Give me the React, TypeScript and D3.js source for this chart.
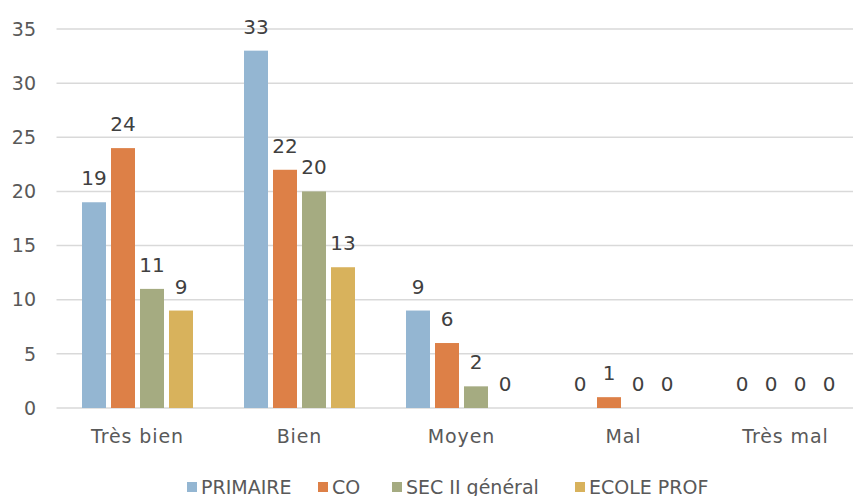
import { useEffect, useRef } from "react"
import * as d3 from "d3"

const categories = ["Très bien", "Bien", "Moyen", "Mal", "Très mal"]
const seriesNames = ["PRIMAIRE", "CO", "SEC II général", "ECOLE PROF"]
const primaire = [19, 33, 9, 0, 0]
const co = [24, 22, 6, 1, 0]
const secII = [11, 20, 2, 0, 0]
const ecoleProf = [9, 13, 0, 0, 0]
const yTicks = [0, 5, 10, 15, 20, 25, 30, 35]

const colors = ["#94B6D2", "#DD8047", "#A5AB81", "#D8B25C"]
const FONT = "'DejaVu Sans', sans-serif"

export default function App() {
  const svgRef = useRef<SVGSVGElement>(null)

  useEffect(() => {
    if (!svgRef.current) return
    const svg = d3.select(svgRef.current)
    svg.selectAll("*").remove()

    const width = 853
    const height = 496
    const left = 56.5
    const right = 866.5
    const top = 29
    const bottom = 408

    const values = [primaire, co, secII, ecoleProf]

    const x = d3.scaleBand<string>().domain(categories).range([left, right])
    // bars 24px wide with 5px gaps inside a group
    const x1 = d3
      .scaleBand<string>()
      .domain(seriesNames)
      .range([25.5, 25.5 + 111])
      .paddingInner(5 / 29)
      .paddingOuter(0)
    const y = d3.scaleLinear().domain([0, 35]).range([bottom, top])

    svg.attr("width", width).attr("height", height)

    // grid
    svg
      .append("g")
      .selectAll("line")
      .data(yTicks)
      .join("line")
      .attr("x1", left)
      .attr("x2", right)
      .attr("y1", (d) => y(d))
      .attr("y2", (d) => y(d))
      .attr("stroke", "#d9d9d9")
      .attr("stroke-width", 1.5)

    // y tick labels
    svg
      .append("g")
      .selectAll("text")
      .data(yTicks)
      .join("text")
      .attr("x", 36)
      .attr("y", (d) => y(d))
      .attr("dy", "0.35em")
      .attr("text-anchor", "end")
      .attr("font-family", FONT)
      .attr("font-size", 19)
      .attr("fill", "#595959")
      .text((d) => d)

    // bars + labels
    values.forEach((vals, si) => {
      const g = svg.append("g")
      g.selectAll("rect")
        .data(vals)
        .join("rect")
        .attr("x", (_, i) => x(categories[i])! + x1(seriesNames[si])!)
        .attr("y", (d) => y(d))
        .attr("width", x1.bandwidth())
        .attr("height", (d) => bottom - y(d))
        .attr("fill", colors[si])
      g.selectAll("text")
        .data(vals)
        .join("text")
        .attr("x", (_, i) => x(categories[i])! + x1(seriesNames[si])! + x1.bandwidth() / 2)
        .attr("y", (d) => y(d) - 17)
        .attr("text-anchor", "middle")
        .attr("font-family", FONT)
        .attr("font-size", 20)
        .attr("fill", "#404040")
        .text((d) => d)
    })

    // category labels
    svg
      .append("g")
      .selectAll("text")
      .data(categories)
      .join("text")
      .attr("x", (d) => x(d)! + x.bandwidth() / 2)
      .attr("y", 443)
      .attr("text-anchor", "middle")
      .attr("font-family", FONT)
      .attr("font-size", 19)
      .attr("letter-spacing", 0.9)
      .attr("fill", "#595959")
      .text((d) => d)

    // legend (cut off at the bottom edge, as in the original)
    const legendX = [187, 318, 392, 575]
    const lg = svg.append("g")
    seriesNames.forEach((name, i) => {
      lg.append("rect")
        .attr("x", legendX[i])
        .attr("y", 482)
        .attr("width", 10)
        .attr("height", 10)
        .attr("fill", colors[i])
      lg.append("text")
        .attr("x", legendX[i] + 14)
        .attr("y", 494)
        .attr("font-family", FONT)
        .attr("font-size", 19)
        .attr("fill", "#595959")
        .text(name)
    })
  }, [])

  return (
    <div style={{ position: "absolute", left: 0, top: 0, width: 853, height: 496, overflow: "hidden", background: "#fff" }}>
      <svg ref={svgRef} style={{ display: "block" }} />
    </div>
  )
}
